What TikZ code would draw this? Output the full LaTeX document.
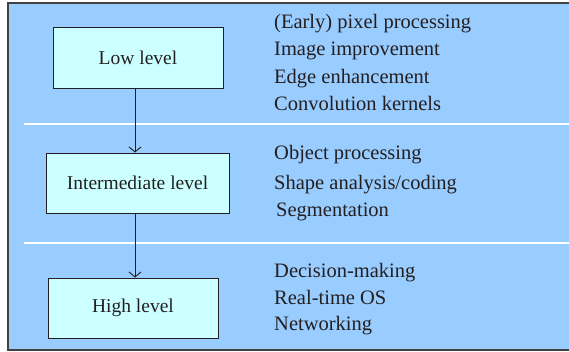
\documentclass[tikz,border=0pt]{standalone}
\usepackage{fontspec}
\setmainfont{Liberation Serif}
\usetikzlibrary{arrows.meta}
\definecolor{bgblue}{HTML}{99CCFF}
\definecolor{boxcyan}{HTML}{CCFFFF}
\definecolor{txt}{HTML}{231F20}
\begin{document}
\begin{tikzpicture}[x=1pt,y=-1pt,
  levelbox/.style={draw=txt,line width=1pt,fill=boxcyan,text=txt,font=\fontsize{19.5}{22}\selectfont,inner sep=0pt},
  item/.style={anchor=base west,text=txt,font=\fontsize{20.5}{22}\selectfont,inner sep=0pt},
  flow/.style={draw=txt,line width=0.9pt,-{Straight Barb[length=5pt,width=12pt]}},
  sep/.style={draw=white,line width=1.2pt}]
\useasboundingbox (0,0) rectangle (569,351);
\fill[bgblue] (8,3) rectangle (575,350);
\draw[draw=txt!85,line width=1.2pt] (8,3) rectangle (580,350);
\draw[sep] (24,124) -- (569,124);
\draw[sep] (24,243) -- (569,243);
\node[levelbox,minimum width=170pt,minimum height=61pt] (low) at (138,57.5) {Low level};
\node[levelbox,minimum width=183pt,minimum height=60pt] (mid) at (137.5,183) {Intermediate level};
\node[levelbox,minimum width=170pt,minimum height=60pt] (high) at (133,308) {High level};
\draw[flow] (low.south -| 135,0) -- (mid.north -| 135,0);
\draw[flow] (mid.south -| 135,0) -- (high.north -| 135,0);
\node[item] (a1) at (274,28) {(Early) pixel processing};
\node[item] (a2) at (274,55.5) {Image improvement};
\node[item] (a3) at (274,83.5) {Edge enhancement};
\node[item] (a4) at (274,110.5) {Convolution kernels};
\node[item] (b1) at (274,159.5) {Object processing};
\node[item] (b2) at (274,189) {Shape analysis/coding};
\node[item] (b3) at (276,216.5) {Segmentation};
\node[item] (c1) at (274,277.5) {Decision-making};
\node[item] (c2) at (274,304.5) {Real-time OS};
\node[item] (c3) at (274,330.5) {Networking};
\end{tikzpicture}
\end{document}
